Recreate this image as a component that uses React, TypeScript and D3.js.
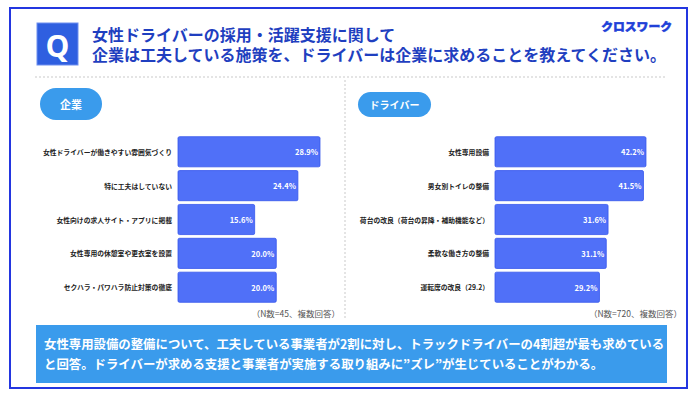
import React from "react";
import * as d3 from "d3";

const titleLines = [
  "女性ドライバーの採用・活躍支援に関して",
  "企業は工夫している施策を、ドライバーは企業に求めることを教えてください。",
];
const companyCategories = [
  "女性ドライバーが働きやすい雰囲気づくり",
  "特に工夫はしていない",
  "女性向けの求人サイト・アプリに掲載",
  "女性専用の休憩室や更衣室を設置",
  "セクハラ・パワハラ防止対策の徹底",
];
const companyValues = [28.9, 24.4, 15.6, 20.0, 20.0];
const driverCategories = [
  "女性専用設備",
  "男女別トイレの整備",
  "荷台の改良（荷台の昇降・補助機能など）",
  "柔軟な働き方の整備",
  "運転席の改良（29.2）",
];
const driverValues = [42.2, 41.5, 31.6, 31.1, 29.2];
const summaryLines = [
  "女性専用設備の整備について、工夫している事業者が2割に対し、トラックドライバーの4割超が最も求めている",
  "と回答。ドライバーが求める支援と事業者が実施する取り組みに”ズレ”が生じていることがわかる。",
];

const FONT = "'Noto Sans CJK JP', 'Noto Sans', sans-serif";
const BAR = "#5070f8";
const BAR_STROKE = "#3556ec";
const PILL = "#3a9bec";

type PanelProps = {
  cats: string[];
  vals: number[];
  x0: number;
  domainMax: number;
  width: number;
  pillX: number;
  pillY: number;
  pillW: number;
  pillH: number;
  pillText: string;
  pillFont: number;
  note: string;
  noteX: number;
};

function Panel(p: PanelProps) {
  const x = d3.scaleLinear().domain([0, p.domainMax]).range([p.x0, p.x0 + p.width]);
  const y = d3.scaleBand<string>().domain(p.cats).range([135, 304]).paddingInner(0.11).paddingOuter(0.05);
  return (
    <g>
      <rect x={p.pillX} y={p.pillY} width={p.pillW} height={p.pillH} rx={p.pillH / 2} fill={PILL} />
      <text x={p.pillX + p.pillW / 2} y={p.pillY + p.pillH / 2} textAnchor="middle" dominantBaseline="central"
        fill="#fff" fontWeight={700} fontSize={p.pillFont} fontFamily={FONT}>{p.pillText}</text>
      {p.cats.map((c, i) => {
        const yy = y(c)!;
        const bw = y.bandwidth();
        return (
          <g key={c}>
            <rect x={x(0)} y={yy} width={x(p.vals[i]) - x(0)} height={bw} rx={1.5}
              fill={BAR} stroke={BAR_STROKE} strokeWidth={0.8} />
            <text x={x(0) - 6} y={yy + bw / 2} textAnchor="end" dominantBaseline="central"
              fontSize={6.8} fontWeight={700} fill="#222" fontFamily={FONT}>{c}</text>
            <text x={x(p.vals[i]) - 2} y={yy + bw / 2} textAnchor="end" dominantBaseline="central"
              fontSize={7.5} fontWeight={700} fill="#fff" fontFamily={FONT}>{p.vals[i].toFixed(1)}%</text>
          </g>
        );
      })}
      <text x={p.noteX} y={313} textAnchor="end" dominantBaseline="central" fontSize={8.5}
        fill="#555" fontFamily={FONT}>{p.note}</text>
    </g>
  );
}

export default function App() {
  return (
    <svg width={700} height={397} style={{ position: "absolute", left: 0, top: 0, background: "#fff" }}>
      <rect x={0} y={0} width={700} height={397} fill="#fff" />
      <rect x={10} y={8} width={677} height={380} fill="#fff" stroke="#2336e0" strokeWidth={2} />
      <rect x={37} y={23} width={41} height={42} fill="#2f5fe0" stroke="#6f8fef" strokeWidth={1} />
      <text x={57.5} y={45} textAnchor="middle" dominantBaseline="central" fill="#fff" fontSize={30}
        fontWeight={700} fontFamily="'Open Sans', sans-serif">Q</text>
      <text fill="#1f3fc0" fontSize={16} fontWeight={700} fontFamily={FONT}>
        {titleLines.map((t, i) => (
          <tspan key={i} x={92} y={40.5 + i * 20}>{t}</tspan>
        ))}
      </text>
      <text x={672} y={25} textAnchor="end" dominantBaseline="central" fill="#2040d8" fontSize={11.8}
        fontWeight={900} fontFamily={FONT} stroke="#2040d8" strokeWidth={0.5}>クロスワーク</text>
      <line x1={35} x2={667} y1={77} y2={77} stroke="#bbb" strokeWidth={0.8} strokeDasharray="2,2" />
      <line x1={345} x2={345} y1={80} y2={318} stroke="#bbb" strokeWidth={0.8} strokeDasharray="2,2" />
      <Panel cats={companyCategories} vals={companyValues} x0={178} domainMax={30} width={147.4}
        pillX={40} pillY={88} pillW={62} pillH={32} pillText="企業" pillFont={11} note="（N数=45、複数回答）" noteX={340} />
      <Panel cats={driverCategories} vals={driverValues} x0={495} domainMax={45} width={161}
        pillX={358} pillY={92} pillW={73} pillH={25} pillText="ドライバー" pillFont={10} note="（N数=720、複数回答）" noteX={682} />
      <rect x={36} y={325} width={631} height={58} fill={PILL} />
      {summaryLines.map((t, i) => (
        <text key={i} x={44} y={343.5 + i * 20} dominantBaseline="central" fill="#fff" fontSize={12.4}
          fontWeight={700} fontFamily={FONT}>{t}</text>
      ))}
    </svg>
  );
}
